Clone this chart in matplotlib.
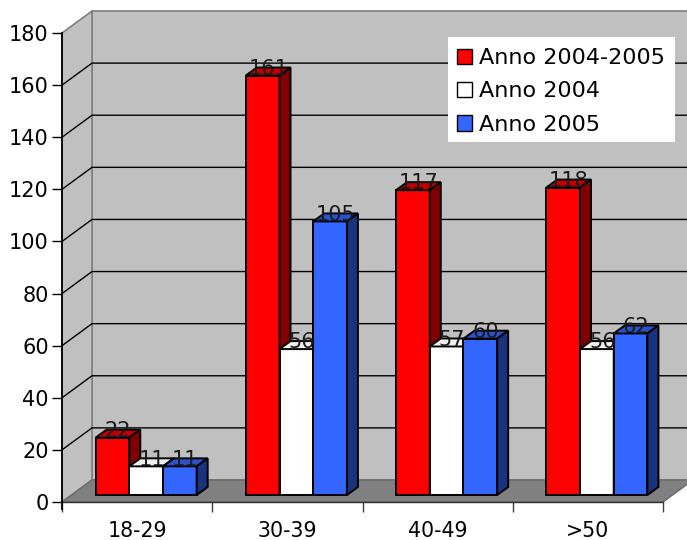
import matplotlib
matplotlib.use("Agg")
import matplotlib.pyplot as plt
from matplotlib.patches import Polygon, Patch, Rectangle

# ---- data ----
categories = ["18-29", "30-39", "40-49", ">50"]
anno_2004_2005 = [22, 161, 117, 118]
anno_2004 = [11, 56, 57, 56]
anno_2005 = [11, 105, 60, 62]
series_names = ["Anno 2004-2005", "Anno 2004", "Anno 2005"]
y_ticks = [0, 20, 40, 60, 80, 100, 120, 140, 160, 180]

series = [anno_2004_2005, anno_2004, anno_2005]
# (front, top, side) shades for each series
shades = [
    ("#FF0000", "#C00000", "#800000"),
    ("#FFFFFF", "#F0F0F0", "#808080"),
    ("#3366FF", "#2952CC", "#1A337F"),
]

W, H = 687, 540
fig = plt.figure(figsize=(W / 100, H / 100), dpi=100)
left_px, right_px, bottom_px, top_px = 62, 663, 502, 33
ax = fig.add_axes([left_px / W, 1 - bottom_px / H,
                   (right_px - left_px) / W, (bottom_px - top_px) / H])
x_min, x_max = -0.5, len(categories) - 0.5
y_min, y_max = 0, 180
ax.set_xlim(x_min, x_max)
ax.set_ylim(y_min, y_max)

px_x = (right_px - left_px) / (x_max - x_min)   # pixels per category unit
px_y = (bottom_px - top_px) / (y_max - y_min)   # pixels per value unit


def dxy(px_dx, px_dy):
    """Convert an oblique pixel offset into data units."""
    return px_dx / px_x, px_dy / px_y


# depth of the box, bar plane offset and bar depth
Dx, Dy = dxy(30, 22)
Ox, Oy = dxy(9, 7)
Bx, By = dxy(11, 8)
bar_w = 33.7 / px_x

wall_c, floor_c, frame_c = "#C0C0C0", "#808080", "#808080"

# back wall
ax.add_patch(Polygon([(x_min + Dx, Dy), (x_max + Dx, Dy),
                      (x_max + Dx, y_max + Dy), (x_min + Dx, y_max + Dy)],
                     closed=True, facecolor=wall_c, edgecolor=frame_c,
                     lw=1.2, clip_on=False, zorder=0))
# left side wall
ax.add_patch(Polygon([(x_min, 0), (x_min + Dx, Dy),
                      (x_min + Dx, y_max + Dy), (x_min, y_max)],
                     closed=True, facecolor=wall_c, edgecolor=frame_c,
                     lw=1.2, clip_on=False, zorder=0.5))
# floor
ax.add_patch(Polygon([(x_min, 0), (x_max, 0), (x_max + Dx, Dy), (x_min + Dx, Dy)],
                     closed=True, facecolor=floor_c, edgecolor="#6a6a6a",
                     lw=1.0, clip_on=False, zorder=0.6))

# gridlines across side wall and back wall
for t in y_ticks[1:-1]:
    ax.plot([x_min, x_min + Dx, x_max + Dx], [t, t + Dy, t + Dy],
            color="black", lw=1.0, clip_on=False, zorder=1)

# bars
for i, cat in enumerate(categories):
    group_c = i + Ox
    for k, (vals, (fc, tc, sc)) in enumerate(zip(series, shades)):
        v = vals[i]
        x0 = group_c + (k - 1.5) * bar_w
        x1 = x0 + bar_w
        y0 = Oy
        y1 = Oy + v
        z = 2 + i * 0.1 + k * 0.01
        ax.add_patch(Polygon([(x0, y0), (x1, y0), (x1, y1), (x0, y1)],
                             facecolor=fc, edgecolor="black", lw=1.4, zorder=z,
                             joinstyle="miter", clip_on=False))
        ax.add_patch(Polygon([(x0, y1), (x1, y1), (x1 + Bx, y1 + By), (x0 + Bx, y1 + By)],
                             facecolor=tc, edgecolor="black", lw=1.4, zorder=z,
                             joinstyle="miter", clip_on=False))
        ax.add_patch(Polygon([(x1, y0), (x1 + Bx, y0 + By), (x1 + Bx, y1 + By), (x1, y1)],
                             facecolor=sc, edgecolor="black", lw=1.4, zorder=z,
                             joinstyle="miter", clip_on=False))
        ax.text((x0 + x1) / 2 + Bx / 2, y1 + By * 0.85, f"{v}",
                ha="center", va="center", fontsize=15, color="#1a1a1a",
                zorder=10, clip_on=False)

# axes styling
for s in ("top", "right"):
    ax.spines[s].set_visible(False)
ax.spines["left"].set_color("black")
ax.spines["left"].set_linewidth(1.3)
ax.spines["left"].set_bounds(-7 / px_y, y_max)
ax.spines["bottom"].set_color("#303030")
ax.spines["bottom"].set_linewidth(1.0)
ax.spines["left"].set_zorder(3)
ax.patch.set_visible(False)

ax.set_yticks(y_ticks)
ax.set_yticklabels([str(t) for t in y_ticks])
ax.tick_params(axis="y", direction="out", length=7, width=1.0, pad=2.5,
               labelsize=15, colors="black")
ax.set_xticks([j - 0.5 for j in range(len(categories) + 1)])
ax.set_xticklabels([])
ax.set_xticks(range(len(categories)), minor=True)
ax.set_xticklabels(categories, minor=True)
ax.tick_params(axis="x", which="major", direction="out", length=7, width=1.0,
               color="#404040")
ax.tick_params(axis="x", which="minor", length=0, pad=14, labelsize=14.8)

# legend: white box with the entries laid over it
fig.patches.append(Rectangle((448 / W, 1 - 142 / H), (675 - 448) / W, (142 - 37) / H,
                             transform=fig.transFigure, facecolor="white",
                             edgecolor="none", zorder=19))
handles = [Patch(facecolor=f, edgecolor="black", lw=1.0) for f, _, _ in shades]
leg = fig.legend(handles, series_names, loc="upper left",
                 bbox_to_anchor=(457 / W, 1 - 48 / H), fontsize=16,
                 frameon=False, borderaxespad=0, borderpad=0,
                 handlelength=0.68, handleheight=0.68,
                 handletextpad=0.32, labelspacing=0.6)
leg.set_zorder(20)

fig.savefig("out.png", dpi=100)
